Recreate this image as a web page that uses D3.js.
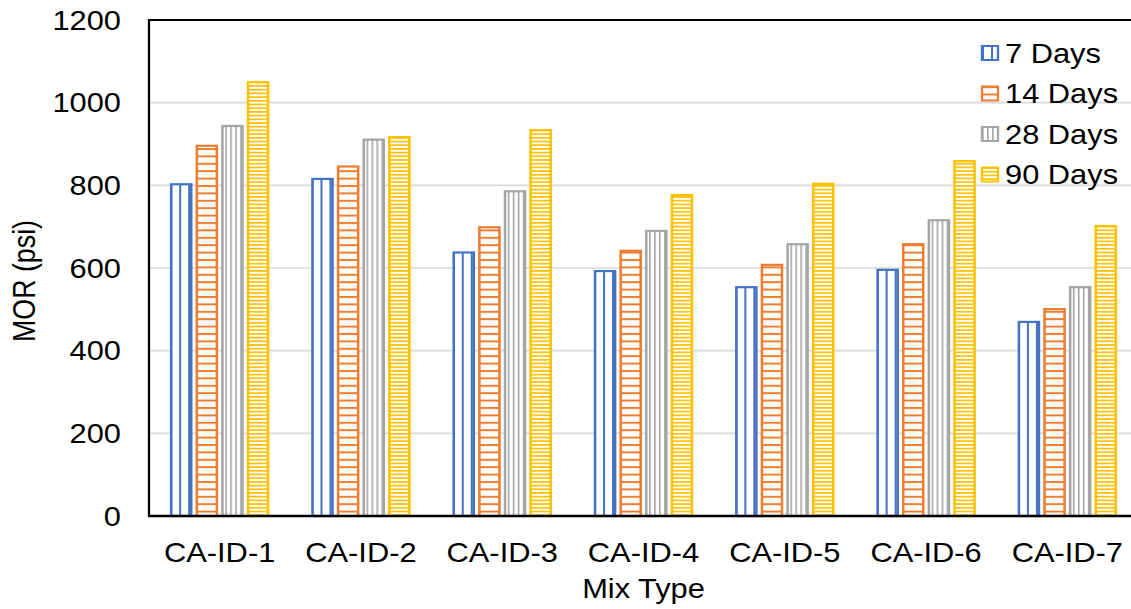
<!DOCTYPE html>
<html>
<head>
<meta charset="utf-8">
<script src="https://cdn.jsdelivr.net/npm/d3@7/dist/d3.min.js"></script>
<style>
  html, body { margin: 0; padding: 0; background: #fff; }
  svg { display: block; }
  text { font-family: "Liberation Sans", Arial, sans-serif; fill: #000; }
</style>
</head>
<body>
<div id="chart"></div>
<script>
const categories = ["CA-ID-1", "CA-ID-2", "CA-ID-3", "CA-ID-4", "CA-ID-5", "CA-ID-6", "CA-ID-7"];
const seriesNames = ["7 Days", "14 Days", "28 Days", "90 Days"];
const days7  = [805, 818, 640, 595, 556, 598, 472];
const days14 = [898, 848, 701, 644, 610, 660, 503];
const days28 = [946, 913, 788, 692, 660, 718, 556];
const days90 = [1052, 919, 936, 779, 806, 861, 704];
const yTicks = [0, 200, 400, 600, 800, 1000, 1200];
const xTitle = "Mix Type";
const yTitle = "MOR (psi)";

const seriesValues = [days7, days14, days28, days90];
const colors = ["#4472C4", "#ED7D31", "#A5A5A5", "#FFC000"];

(function () {
const W = 1131, H = 609;
const sx = 1.15;             // horizontal stretch of the picture
const VW = W / sx;
const px = v => v / sx;      // pixel x -> viewBox x
const FS = 26.8;

const pL = px(149), pR = px(1138), pT = 20, pB = 516;

const svg = d3.select("#chart").append("svg")
  .attr("width", W).attr("height", H)
  .attr("viewBox", `0 0 ${VW} ${H}`)
  .attr("preserveAspectRatio", "none");

const defs = svg.append("defs");
function vPattern(id, color, period, lw) {
  const p = defs.append("pattern").attr("id", id)
    .attr("patternUnits", "userSpaceOnUse")
    .attr("width", period).attr("height", 10);
  p.append("rect").attr("width", period).attr("height", 10).attr("fill", "#fff");
  p.append("rect").attr("x", 0).attr("y", 0).attr("width", lw).attr("height", 10).attr("fill", color);
}
function hPattern(id, color, period, lw) {
  const p = defs.append("pattern").attr("id", id)
    .attr("patternUnits", "userSpaceOnUse")
    .attr("width", 10).attr("height", period);
  p.append("rect").attr("width", 10).attr("height", period).attr("fill", "#fff");
  p.append("rect").attr("x", 0).attr("y", 0).attr("width", 10).attr("height", lw).attr("fill", color);
}
vPattern("p0", "#4472C4", px(9), px(2));
hPattern("p1", "#ED7D31", 7.4, 2);
vPattern("p2", "#A5A5A5", px(5), px(1.6));
hPattern("p3", "#FFC000", 3.7, 1.7);

const x0 = d3.scaleBand().domain(categories).range([pL, pR])
  .paddingInner(0.3).paddingOuter(0.15);
const x1 = d3.scaleBand().domain(d3.range(seriesNames.length)).range([0, x0.bandwidth()])
  .paddingInner(0.14).paddingOuter(0);
const y = d3.scaleLinear().domain([0, 1200]).range([pB, pT]);

// gridlines
svg.append("g").selectAll("line").data(yTicks.filter(d => d > 0 && d < 1200)).join("line")
  .attr("x1", pL).attr("x2", VW)
  .attr("y1", d => y(d)).attr("y2", d => y(d))
  .attr("stroke", "#d9d9d9").attr("stroke-width", 1.6);

// bars
const groups = svg.append("g").selectAll("g").data(categories).join("g")
  .attr("transform", c => `translate(${x0(c)},0)`);
groups.selectAll("rect")
  .data((c, ci) => seriesValues.map((arr, si) => ({ si, v: arr[ci] })))
  .join("rect")
  .attr("x", d => x1(d.si) + px(1))
  .attr("width", x1.bandwidth() - px(2))
  .attr("y", d => y(d.v) + 1)
  .attr("height", d => y(0) - y(d.v) - 1)
  .attr("fill", d => `url(#p${d.si})`)
  .attr("stroke", d => colors[d.si])
  .attr("stroke-width", 2.2);

// axes frame
svg.append("line").attr("x1", pL).attr("x2", pL).attr("y1", pT - 1).attr("y2", pB + 1)
  .attr("stroke", "#000").attr("stroke-width", 2);
svg.append("line").attr("x1", pL - px(1)).attr("x2", VW).attr("y1", pT).attr("y2", pT)
  .attr("stroke", "#000").attr("stroke-width", 2);
svg.append("line").attr("x1", pL - px(1)).attr("x2", VW).attr("y1", pB).attr("y2", pB)
  .attr("stroke", "#000").attr("stroke-width", 2.5);

// y tick labels
svg.append("g").selectAll("text").data(yTicks).join("text")
  .attr("x", px(121)).attr("y", d => y(d)).attr("dy", "0.36em")
  .attr("text-anchor", "end").attr("font-size", FS)
  .text(d => d);

// x tick labels
svg.append("g").selectAll("text").data(categories).join("text")
  .attr("x", c => x0(c) + x0.bandwidth() / 2).attr("y", 562)
  .attr("text-anchor", "middle").attr("font-size", FS)
  .text(c => c);

// axis titles
svg.append("text").attr("x", (pL + pR) / 2).attr("y", 598)
  .attr("text-anchor", "middle").attr("font-size", FS).text(xTitle);
svg.append("text")
  .attr("transform", `translate(${px(35)},${(pT + pB) / 2 + 13}) rotate(-90)`)
  .attr("text-anchor", "middle").attr("font-size", FS).text(yTitle);

// legend
const lg = svg.append("g").selectAll("g").data(seriesNames).join("g")
  .attr("transform", (d, i) => `translate(${px(982)},${53 + i * 40.5})`);
lg.append("rect")
  .attr("x", 0).attr("y", -7).attr("width", px(16)).attr("height", 14)
  .attr("fill", (d, i) => `url(#p${i})`)
  .attr("stroke", (d, i) => colors[i]).attr("stroke-width", 2);
lg.append("text").attr("x", px(23)).attr("y", 0).attr("dy", "0.36em")
  .attr("font-size", FS).text(d => d);
})();
</script>
</body>
</html>
